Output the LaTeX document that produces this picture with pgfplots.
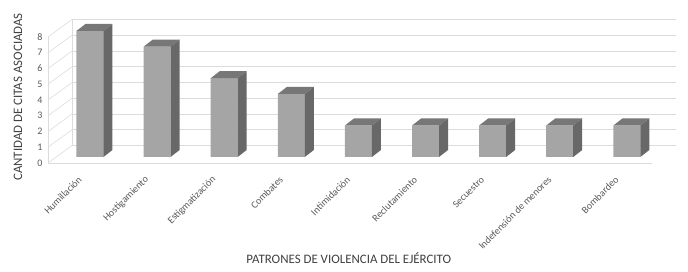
\documentclass[border=0pt]{standalone}
\usepackage{fontspec}
\setmainfont{Carlito}
\usepackage{pgfplots}
\usepackage{pgfplotstable}
\pgfplotsset{compat=1.18}
\definecolor{frontcol}{HTML}{A5A5A5}
\definecolor{topcol}{HTML}{777777}
\definecolor{sidecol}{HTML}{686868}
\definecolor{gridcol}{HTML}{DCDCDC}
\definecolor{txtcol}{HTML}{595959}
\definecolor{titcol}{HTML}{404040}

\pgfplotstableread{
idx val
0 8
1 7
2 5
3 4
4 2
5 2
6 2
7 2
8 2
}\datatable

% top and right side faces of a 3-D bar, drawn at the top-centre of its front face
\pgfdeclareplotmark{sidetop}{%
  \pgfmathsetmacro{\lf}{-\barval*15.75}%
  \pgfmathsetmacro{\lb}{7-\barval*15.75}%
  \pgfsetfillcolor{topcol}%
  \pgfpathmoveto{\pgfpoint{-13.5pt}{0pt}}%
  \pgfpathlineto{\pgfpoint{13.5pt}{0pt}}%
  \pgfpathlineto{\pgfpoint{22.5pt}{7pt}}%
  \pgfpathlineto{\pgfpoint{-4.5pt}{7pt}}%
  \pgfpathclose
  \pgfusepath{fill}%
  \pgfsetfillcolor{sidecol}%
  \pgfpathmoveto{\pgfpoint{13.5pt}{0pt}}%
  \pgfpathlineto{\pgfpoint{22.5pt}{7pt}}%
  \pgfpathlineto{\pgfpoint{22.5pt}{\lb pt}}%
  \pgfpathlineto{\pgfpoint{13.5pt}{\lf pt}}%
  \pgfpathclose
  \pgfusepath{fill}%
}

\begin{document}
\begin{tikzpicture}
\useasboundingbox (0pt,0pt) rectangle (688pt,272pt);
\begin{axis}[
  at={(48pt,109pt)}, anchor=south west,
  x=67.111pt, y=15.75pt,
  xmin=-0.5, xmax=8.5, ymin=0, ymax=8,
  clip=false,
  axis x line=bottom, axis y line=left,
  axis line style={draw=none},
  major tick length=0pt,
  ytick={0,...,8},
  xtick={0,...,8},
  xticklabels={Humillación,Hostigamiento,Estigmatización,Combates,Intimidación,Reclutamiento,Secuestro,Indefensión de menores,Bombardeo},
  /pgf/number format/assume math mode=true,
  yticklabel style={font=\fontsize{10}{11}\selectfont, text=txtcol, anchor=east, xshift=-2pt},
  xticklabel style={font=\fontsize{10}{11}\selectfont, text=txtcol, inner sep=0pt, xshift=-1.5pt, yshift=-15pt, rotate=45, anchor=east},
  xlabel={PATRONES DE VIOLENCIA DEL EJÉRCITO},
  ylabel={CANTIDAD DE CITAS ASOCIADAS},
  xlabel style={at={(axis description cs:0.498,-0.754)}, anchor=center, font=\fontsize{12.9}{14}\selectfont, text=titcol},
  ylabel style={at={(axis description cs:-0.0497,0.524)}, anchor=center, font=\fontsize{12.9}{14}\selectfont, text=titcol},
]
% back wall grid lines and left wall lines
\pgfplotsinvokeforeach{0,...,8}{
  \draw[gridcol, line width=0.6pt] ([shift={(24pt,17.5pt)}]axis cs:-0.5,#1) -- ([shift={(24pt,17.5pt)}]axis cs:8.5,#1);
  \draw[gridcol, line width=0.6pt] (axis cs:-0.5,#1) -- ([shift={(24pt,17.5pt)}]axis cs:-0.5,#1);
}
\draw[gridcol, line width=0.6pt] (axis cs:-0.5,0) -- (axis cs:-0.5,8);
\draw[gridcol, line width=0.6pt] ([shift={(24pt,17.5pt)}]axis cs:-0.5,0) -- ([shift={(24pt,17.5pt)}]axis cs:-0.5,8);
\draw[gridcol, line width=0.8pt] (axis cs:-0.5,0) -- (axis cs:8.5,0);
% front faces
\addplot[ybar, bar width=27pt, fill=frontcol, draw=none, xshift=8.4pt, yshift=6pt]
  table[x=idx, y=val] {\datatable};
% top and side faces
\addplot[only marks, mark=sidetop, xshift=8.4pt, yshift=6pt,
  visualization depends on={rawy \as \barval}]
  table[x=idx, y=val] {\datatable};
\end{axis}
\end{tikzpicture}
\end{document}
